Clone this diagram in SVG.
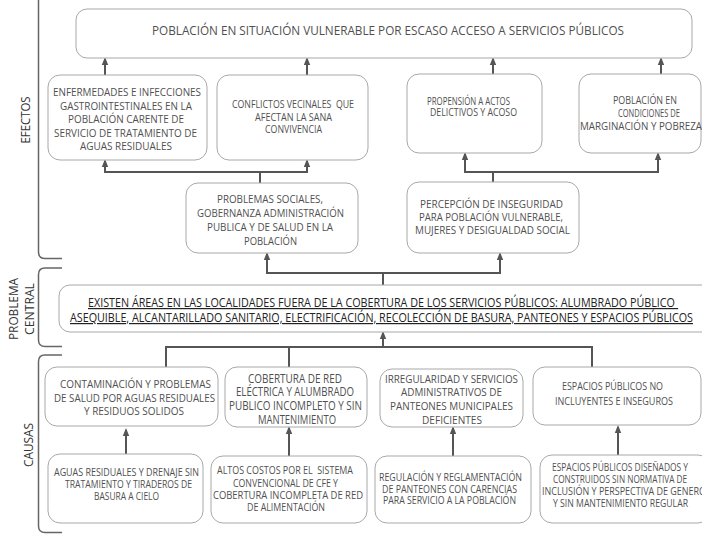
<svg xmlns="http://www.w3.org/2000/svg" width="702" height="540" viewBox="0 0 702 540">
<style>
.bg{fill:#ffffff}
.box{fill:#ffffff;stroke:#a8a8a8;stroke-width:1}
.t{font-family:"Open Sans","Noto Sans","Liberation Sans",sans-serif;fill:#505050}
.c{font-family:"Open Sans","Noto Sans","Liberation Sans",sans-serif;fill:#222222;font-size:12px;text-decoration:underline}
.lbl{font-family:"Open Sans","Noto Sans","Liberation Sans",sans-serif;fill:#333333;font-size:12.5px;text-anchor:middle}
.br{fill:none;stroke:#666666;stroke-width:1.5}
.ln{fill:none;stroke:#555555;stroke-width:2}
.ar{fill:none;stroke:#555555;stroke-width:2;marker-end:url(#ah)}
</style>
<defs>
<marker id="ah" markerUnits="userSpaceOnUse" markerWidth="8" markerHeight="8" viewBox="0 0 8 8" refX="6" refY="4" orient="auto">
<path d="M0,0.8 L8,4 L0,7.2 z" fill="#555555"/>
</marker>
</defs>
<rect class="bg" x="0" y="0" width="702" height="540"/>

<g id="brackets">
<path class="br" d="M38.5,0 V252 Q38.5,258.5 45,258.5 H62"/>
<path class="br" d="M62,268 H45 Q38.5,268 38.5,274.5 V340 Q38.5,346.5 45,346.5 H62"/>
<path class="br" d="M62,355 H45 Q38.5,355 38.5,361.5 V526 Q38.5,532.5 45,532.5 H62"/>
<text class="lbl" transform="translate(29.5,120) rotate(-90)" textLength="47" lengthAdjust="spacingAndGlyphs">EFECTOS</text>
<text class="lbl" transform="translate(17.5,309) rotate(-90)" textLength="62" lengthAdjust="spacingAndGlyphs">PROBLEMA</text>
<text class="lbl" transform="translate(34,309) rotate(-90)" textLength="52" lengthAdjust="spacingAndGlyphs">CENTRAL</text>
<text class="lbl" transform="translate(32.5,445) rotate(-90)" textLength="44" lengthAdjust="spacingAndGlyphs">CAUSAS</text>
</g>

<g id="connectors">
<path class="ar" d="M105,75 V59"/>
<path class="ar" d="M307,75 V59"/>
<path class="ar" d="M493,74 V59"/>
<path class="ar" d="M661,74 V59"/>
<path class="ln" d="M105,172 H307"/>
<path class="ln" d="M260,172 V183"/>
<path class="ar" d="M105,173 V161"/>
<path class="ar" d="M307,173 V161"/>
<path class="ln" d="M465,172 H658"/>
<path class="ln" d="M493,172 V182"/>
<path class="ar" d="M465,173 V154"/>
<path class="ar" d="M658,173 V154"/>
<path class="ln" d="M267,273 H500"/>
<path class="ln" d="M383,273 V285"/>
<path class="ar" d="M267,274 V254"/>
<path class="ar" d="M500,274 V254"/>
<path class="ln" d="M166,367 V347 H592 V367"/>
<path class="ln" d="M289,347 V367"/>
<path class="ar" d="M383,348 V333"/>
<path class="ar" d="M126,454 V430"/>
<path class="ar" d="M289,456 V428"/>
<path class="ar" d="M453,456 V428"/>
<path class="ar" d="M618,455 V427"/>
</g>

<g id="efecto-principal">
<rect class="box" x="76" y="9" width="616" height="49" rx="11"/>
<text class="t" font-size="12" x="152" y="34.5" textLength="472" lengthAdjust="spacingAndGlyphs">POBLACIÓN EN SITUACIÓN VULNERABLE POR ESCASO ACCESO A SERVICIOS PÚBLICOS</text>
</g>

<g id="efecto-enfermedades">
<rect class="box" x="48" y="75" width="159" height="85" rx="12"/>
<text class="t" font-size="11">
<tspan x="53" y="96" textLength="148" lengthAdjust="spacingAndGlyphs">ENFERMEDADES E INFECCIONES</tspan>
<tspan x="60" y="109.5" textLength="132" lengthAdjust="spacingAndGlyphs">GASTROINTESTINALES EN LA</tspan>
<tspan x="68" y="123" textLength="116" lengthAdjust="spacingAndGlyphs">POBLACIÓN CARENTE DE</tspan>
<tspan x="54" y="136.5" textLength="143" lengthAdjust="spacingAndGlyphs">SERVICIO DE TRATAMIENTO DE</tspan>
<tspan x="80" y="150" textLength="92" lengthAdjust="spacingAndGlyphs">AGUAS RESIDUALES</tspan>
</text>
</g>

<g id="efecto-conflictos">
<rect class="box" x="217" y="75" width="151" height="85" rx="12"/>
<text class="t" font-size="10.5">
<tspan x="232" y="108" textLength="122" lengthAdjust="spacingAndGlyphs">CONFLICTOS VECINALES &#160;QUE</tspan>
<tspan x="255" y="120.5" textLength="77" lengthAdjust="spacingAndGlyphs">AFECTAN LA SANA</tspan>
<tspan x="265" y="132.5" textLength="57" lengthAdjust="spacingAndGlyphs">CONVIVENCIA</tspan>
</text>
</g>

<g id="efecto-delictivos">
<rect class="box" x="407" y="74" width="135" height="79" rx="12"/>
<text class="t" font-size="10">
<tspan x="427" y="104.5" textLength="83" lengthAdjust="spacingAndGlyphs">PROPENSIÓN A ACTOS</tspan>
<tspan x="430" y="115.5" textLength="87" lengthAdjust="spacingAndGlyphs">DELICTIVOS Y ACOSO</tspan>
</text>
</g>

<g id="efecto-marginacion">
<rect class="box" x="579" y="74" width="122" height="79" rx="12"/>
<text class="t" font-size="10.5">
<tspan x="613" y="104" textLength="64" lengthAdjust="spacingAndGlyphs">POBLACIÓN EN</tspan>
<tspan x="618" y="117" textLength="62" lengthAdjust="spacingAndGlyphs">CONDICIONES DE</tspan>
<tspan x="580" y="130" textLength="122" lengthAdjust="spacingAndGlyphs">MARGINACIÓN Y POBREZA</tspan>
</text>
</g>

<g id="efecto-problemas-sociales">
<rect class="box" x="186" y="183" width="172" height="70" rx="12"/>
<text class="t" font-size="11">
<tspan x="217" y="203" textLength="106" lengthAdjust="spacingAndGlyphs">PROBLEMAS SOCIALES,</tspan>
<tspan x="197" y="217" textLength="147" lengthAdjust="spacingAndGlyphs">GOBERNANZA ADMINISTRACIÓN</tspan>
<tspan x="207" y="231" textLength="126" lengthAdjust="spacingAndGlyphs">PUBLICA Y DE SALUD EN LA</tspan>
<tspan x="244" y="244.5" textLength="53" lengthAdjust="spacingAndGlyphs">POBLACIÓN</tspan>
</text>
</g>

<g id="efecto-inseguridad">
<rect class="box" x="407" y="182" width="172" height="71" rx="12"/>
<text class="t" font-size="11">
<tspan x="420" y="208" textLength="143" lengthAdjust="spacingAndGlyphs">PERCEPCIÓN DE INSEGURIDAD</tspan>
<tspan x="419" y="221" textLength="144" lengthAdjust="spacingAndGlyphs">PARA POBLACIÓN VULNERABLE,</tspan>
<tspan x="415" y="234" textLength="155" lengthAdjust="spacingAndGlyphs">MUJERES Y DESIGUALDAD SOCIAL</tspan>
</text>
</g>

<g id="problema-central">
<rect class="box" x="59" y="285" width="660" height="47" rx="11"/>
<text class="c">
<tspan x="88" y="307" textLength="587" lengthAdjust="spacingAndGlyphs">EXISTEN ÁREAS EN LAS LOCALIDADES FUERA DE LA COBERTURA DE LOS SERVICIOS PÚBLICOS: ALUMBRADO PÚBLICO</tspan>
<tspan x="70" y="322" textLength="623" lengthAdjust="spacingAndGlyphs">ASEQUIBLE, ALCANTARILLADO SANITARIO, ELECTRIFICACIÓN, RECOLECCIÓN DE BASURA, PANTEONES Y ESPACIOS PÚBLICOS</tspan>
</text>
</g>

<g id="causa-contaminacion">
<rect class="box" x="45" y="367" width="173" height="59" rx="12"/>
<text class="t" font-size="11">
<tspan x="60" y="388" textLength="151" lengthAdjust="spacingAndGlyphs">CONTAMINACIÓN Y PROBLEMAS</tspan>
<tspan x="54" y="402" textLength="161" lengthAdjust="spacingAndGlyphs">DE SALUD POR AGUAS RESIDUALES</tspan>
<tspan x="84" y="415" textLength="100" lengthAdjust="spacingAndGlyphs">Y RESIDUOS SOLIDOS</tspan>
</text>
</g>

<g id="causa-red-electrica">
<rect class="box" x="225" y="367" width="142" height="60" rx="12"/>
<text class="t" font-size="12">
<tspan x="248" y="382.5" textLength="94" lengthAdjust="spacingAndGlyphs">COBERTURA DE RED</tspan>
<tspan x="236" y="396" textLength="118" lengthAdjust="spacingAndGlyphs">ELÉCTRICA Y ALUMBRADO</tspan>
<tspan x="229" y="410" textLength="133" lengthAdjust="spacingAndGlyphs">PUBLICO INCOMPLETO Y SIN</tspan>
<tspan x="258" y="423.5" textLength="78" lengthAdjust="spacingAndGlyphs">MANTENIMIENTO</tspan>
</text>
</g>

<g id="causa-panteones">
<rect class="box" x="380" y="369" width="143" height="58" rx="12"/>
<text class="t" font-size="11.5">
<tspan x="385" y="382.5" textLength="133" lengthAdjust="spacingAndGlyphs">IRREGULARIDAD Y SERVICIOS</tspan>
<tspan x="401" y="396" textLength="101" lengthAdjust="spacingAndGlyphs">ADMINISTRATIVOS DE</tspan>
<tspan x="390" y="410" textLength="123" lengthAdjust="spacingAndGlyphs">PANTEONES MUNICIPALES</tspan>
<tspan x="422" y="423.5" textLength="60" lengthAdjust="spacingAndGlyphs">DEFICIENTES</tspan>
</text>
</g>

<g id="causa-espacios">
<rect class="box" x="533" y="367" width="168" height="58" rx="12"/>
<text class="t" font-size="11.5">
<tspan x="562" y="389.5" textLength="101" lengthAdjust="spacingAndGlyphs">ESPACIOS PÚBLICOS NO</tspan>
<tspan x="555" y="404.5" textLength="118" lengthAdjust="spacingAndGlyphs">INCLUYENTES E INSEGUROS</tspan>
</text>
</g>

<g id="causa-aguas-residuales">
<rect class="box" x="48" y="454" width="155" height="69" rx="12"/>
<text class="t" font-size="10">
<tspan x="54" y="475.5" textLength="145" lengthAdjust="spacingAndGlyphs">AGUAS RESIDUALES Y DRENAJE SIN</tspan>
<tspan x="65" y="487.5" textLength="127" lengthAdjust="spacingAndGlyphs">TRATAMIENTO Y TIRADEROS DE</tspan>
<tspan x="94" y="499.5" textLength="65" lengthAdjust="spacingAndGlyphs">BASURA A CIELO</tspan>
</text>
</g>

<g id="causa-costos-cfe">
<rect class="box" x="211" y="456" width="156" height="67" rx="12"/>
<text class="t" font-size="10.5">
<tspan x="217" y="474" textLength="136" lengthAdjust="spacingAndGlyphs">ALTOS COSTOS POR EL &#160;SISTEMA</tspan>
<tspan x="233" y="487" textLength="105" lengthAdjust="spacingAndGlyphs">CONVENCIONAL DE CFE Y</tspan>
<tspan x="213" y="499" textLength="150" lengthAdjust="spacingAndGlyphs">COBERTURA INCOMPLETA DE RED</tspan>
<tspan x="247" y="511" textLength="78" lengthAdjust="spacingAndGlyphs">DE ALIMENTACIÓN</tspan>
</text>
</g>

<g id="causa-reglamentacion">
<rect class="box" x="375" y="456" width="156" height="67" rx="12"/>
<text class="t" font-size="10.5">
<tspan x="379" y="481" textLength="143" lengthAdjust="spacingAndGlyphs">REGULACIÓN Y REGLAMENTACIÓN</tspan>
<tspan x="382" y="492.5" textLength="135" lengthAdjust="spacingAndGlyphs">DE PANTEONES CON CARENCIAS</tspan>
<tspan x="383" y="504" textLength="133" lengthAdjust="spacingAndGlyphs">PARA SERVICIO A LA POBLACIÓN</tspan>
</text>
</g>

<g id="causa-diseno-espacios">
<rect class="box" x="540" y="455" width="170" height="68" rx="12"/>
<text class="t" font-size="10.5">
<tspan x="552" y="471" textLength="136" lengthAdjust="spacingAndGlyphs">ESPACIOS PÚBLICOS DISEÑADOS Y</tspan>
<tspan x="553" y="483" textLength="134" lengthAdjust="spacingAndGlyphs">CONSTRUIDOS SIN NORMATIVA DE</tspan>
<tspan x="542" y="495" textLength="164" lengthAdjust="spacingAndGlyphs">INCLUSIÓN Y PERSPECTIVA DE GENERO</tspan>
<tspan x="553" y="507" textLength="135" lengthAdjust="spacingAndGlyphs">Y SIN MANTENIMIENTO REGULAR</tspan>
</text>
</g>
</svg>
